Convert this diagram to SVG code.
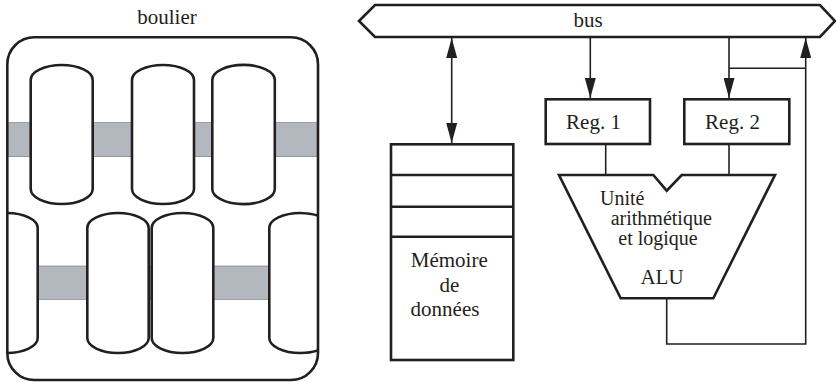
<svg xmlns="http://www.w3.org/2000/svg" width="836" height="382" viewBox="0 0 836 382">
  <style>
    .txt { font-family: 'Liberation Serif', 'DejaVu Serif', 'Times New Roman', serif; font-size: 21px; fill: #231f20; }
    .alu { font-size: 20px; }
    .mid { text-anchor: middle; }
    .box { fill: #fff; stroke: #231f20; stroke-width: 2.6; }
    .bead { fill: #fff; stroke: #231f20; stroke-width: 2.6; }
    .rod { fill: #b3b8bf; stroke: #6d7075; stroke-width: 0.6; }
    .wire { fill: none; stroke: #231f20; stroke-width: 1.6; }
  </style>
  <defs>
    <marker id="arr" viewBox="0 0 20 11" refX="20" refY="5.5" markerWidth="20" markerHeight="11" markerUnits="userSpaceOnUse" orient="auto-start-reverse">
      <path d="M0,0 L20,5.5 L0,11 Z" fill="#231f20"/>
    </marker>
    <clipPath id="frameClip">
      <rect x="7.3" y="37.3" width="310.7" height="342.7" rx="27"/>
    </clipPath>
  </defs>

  <!-- Abacus (boulier) -->
  <g id="boulier">
    <text class="txt mid" x="167" y="23.5" font-family="Liberation Serif, serif">boulier</text>
    <rect x="7.3" y="37.3" width="310.7" height="342.7" rx="27" fill="#fff"/>
    <g clip-path="url(#frameClip)">
      <!-- rods -->
      <rect class="rod" x="0" y="122.7" width="330" height="34"/>
      <rect class="rod" x="0" y="266" width="330" height="33.3"/>
      <!-- upper beads -->
      <path class="bead" d="M30.7,80 A31,15 0 0 1 92.7,80 L92.7,189 A31,15 0 0 1 30.7,189 Z"/>
      <path class="bead" d="M132,80 A31,15 0 0 1 194,80 L194,189 A31,15 0 0 1 132,189 Z"/>
      <path class="bead" d="M212.3,80 A31,15 0 0 1 274.8,80 L274.8,189 A31,15 0 0 1 212.3,189 Z"/>
      <!-- lower beads -->
      <path class="bead" d="M-24.3,228 A31,15 0 0 1 37.7,228 L37.7,338 A31,15 0 0 1 -24.3,338 Z"/>
      <path class="bead" d="M87.3,228 A30.7,15 0 0 1 148.7,228 L148.7,338 A30.7,15 0 0 1 87.3,338 Z"/>
      <path class="bead" d="M151.7,228 A30.8,15 0 0 1 213.3,228 L213.3,338 A30.8,15 0 0 1 151.7,338 Z"/>
      <path class="bead" d="M269.3,228 A31,15 0 0 1 331.3,228 L331.3,338 A31,15 0 0 1 269.3,338 Z"/>
    </g>
    <rect x="7.3" y="37.3" width="310.7" height="342.7" rx="27" fill="none" stroke="#231f20" stroke-width="2.6"/>
  </g>

  <!-- Connectors -->
  <g id="connectors">
    <line class="wire" x1="451.7" y1="38" x2="451.7" y2="143" marker-start="url(#arr)" marker-end="url(#arr)"/>
    <line class="wire" x1="590.3" y1="38" x2="590.3" y2="98" marker-end="url(#arr)"/>
    <line class="wire" x1="729" y1="38" x2="729" y2="98" marker-end="url(#arr)"/>
    <line class="wire" x1="729" y1="68.3" x2="805.7" y2="68.3"/>
    <polyline class="wire" points="666.7,298 666.7,344 805.7,344 805.7,38" marker-end="url(#arr)"/>
    <line class="wire" x1="605.7" y1="144" x2="605.7" y2="175"/>
    <line class="wire" x1="729" y1="144" x2="729" y2="175"/>
  </g>

  <!-- Bus -->
  <g id="bus">
    <polygon class="box" points="359,21 375,5 820,5 835,21 820,37 375,37"/>
    <text class="txt mid" x="588" y="27">bus</text>
  </g>

  <!-- Registers -->
  <g id="reg1">
    <rect class="box" x="545.7" y="99.3" width="104.3" height="44.7"/>
    <text class="txt mid" x="593.5" y="129">Reg. 1</text>
  </g>
  <g id="reg2">
    <rect class="box" x="684.3" y="99.3" width="105" height="44.7"/>
    <text class="txt mid" x="732.5" y="129">Reg. 2</text>
  </g>

  <!-- Data memory -->
  <g id="memoire">
    <rect class="box" x="391" y="144.3" width="122.3" height="215.7"/>
    <line x1="391" y1="175" x2="513.3" y2="175" stroke="#231f20" stroke-width="2.6"/>
    <line x1="391" y1="206.7" x2="513.3" y2="206.7" stroke="#231f20" stroke-width="2.6"/>
    <line x1="391" y1="236.7" x2="513.3" y2="236.7" stroke="#231f20" stroke-width="2.6"/>
    <text class="txt mid" x="449.3" y="267">Mémoire</text>
    <text class="txt mid" x="449.3" y="291.5">de</text>
    <text class="txt mid" x="445" y="315.5">données</text>
  </g>

  <!-- ALU -->
  <g id="alu">
    <polygon class="box" points="559,175 653.3,175 666.7,190.7 681.7,175 775,175 713.3,298.3 620.7,298.3"/>
    <text class="txt alu" x="600" y="205">Unité</text>
    <text class="txt alu" x="610.7" y="225">arithmétique</text>
    <text class="txt alu" x="618.3" y="245">et logique</text>
    <text class="txt mid" x="662" y="283.5">ALU</text>
  </g>
</svg>
